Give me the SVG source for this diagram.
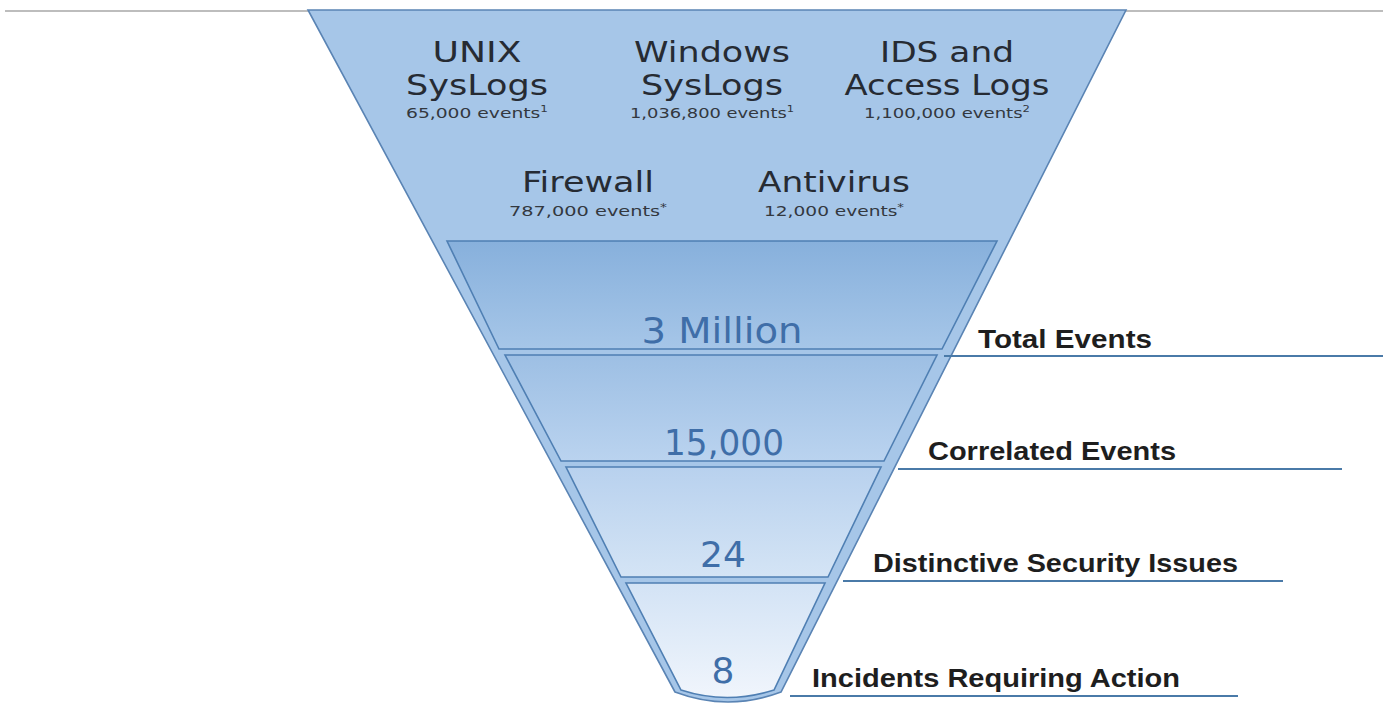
<svg xmlns="http://www.w3.org/2000/svg" width="1383" height="706" viewBox="0 0 1383 706">
<defs>
<linearGradient id="g1" x1="0" y1="0" x2="0" y2="1"><stop offset="0" stop-color="#87b0dc"/><stop offset="1" stop-color="#a6c6e8"/></linearGradient>
<linearGradient id="g2" x1="0" y1="0" x2="0" y2="1"><stop offset="0" stop-color="#9dbfe4"/><stop offset="1" stop-color="#bad3ef"/></linearGradient>
<linearGradient id="g3" x1="0" y1="0" x2="0" y2="1"><stop offset="0" stop-color="#b8d1ee"/><stop offset="1" stop-color="#d4e4f5"/></linearGradient>
<linearGradient id="g4" x1="0" y1="0" x2="0" y2="1"><stop offset="0" stop-color="#d3e3f5"/><stop offset="1" stop-color="#f0f5fc"/></linearGradient>
</defs>
<style>
.band{stroke:#4f7fb3;stroke-width:1.6}
.src{font-family:"DejaVu Sans","Liberation Sans",sans-serif;fill:#262b33;text-anchor:middle}
.t{font-size:29px}
.s{font-size:14px;fill:#33383f}
.num{font-family:"DejaVu Sans","Liberation Sans",sans-serif;font-size:36px;fill:#3f6ea8;text-anchor:middle}
.lab{font-family:"Liberation Sans",Arial,sans-serif;font-weight:bold;font-size:26px;fill:#1e1e1e}
.rule{stroke:#4a7aa8;stroke-width:2;fill:none}
</style>
<line x1="5" y1="11" x2="308" y2="11" stroke="#bdbdbd" stroke-width="2"/>
<line x1="1126" y1="11" x2="1383" y2="11" stroke="#bdbdbd" stroke-width="2"/>
<g id="funnel">
<path d="M308,10 L1126,10 L781,692 Q728,712 675,692 Z" fill="#a6c6e8" stroke="#5a84b4" stroke-width="1.6"/>
</g>
<g id="stage-total">
<polygon class="band" points="447,241 997,241 942,349 499,349" fill="url(#g1)"/>
<text class="num" x="722" y="343" textLength="161" lengthAdjust="spacingAndGlyphs">3 Million</text>
</g>
<g id="stage-correlated">
<polygon class="band" points="505,355 937,355 884,461 561,461" fill="url(#g2)"/>
<text class="num" x="724" y="455" textLength="120" lengthAdjust="spacingAndGlyphs">15,000</text>
</g>
<g id="stage-distinctive">
<polygon class="band" points="566,467 881,467 828,577 621,577" fill="url(#g3)"/>
<text class="num" x="723" y="567">24</text>
</g>
<g id="stage-incidents">
<path class="band" d="M626,583 L825,583 L774,690 Q727,705 681,690 Z" fill="url(#g4)"/>
<text class="num" x="723" y="683">8</text>
</g>
<g id="src-unix">
<text class="src t" x="477" y="62" textLength="89" lengthAdjust="spacingAndGlyphs">UNIX</text>
<text class="src t" x="477" y="95" textLength="142" lengthAdjust="spacingAndGlyphs">SysLogs</text>
<text class="src s" x="477" y="118" textLength="142" lengthAdjust="spacingAndGlyphs">65,000 events<tspan font-size="9" dy="-6">1</tspan></text>
</g>
<g id="src-windows">
<text class="src t" x="712" y="62" textLength="156" lengthAdjust="spacingAndGlyphs">Windows</text>
<text class="src t" x="712" y="95" textLength="142" lengthAdjust="spacingAndGlyphs">SysLogs</text>
<text class="src s" x="712" y="118" textLength="164" lengthAdjust="spacingAndGlyphs">1,036,800 events<tspan font-size="9" dy="-6">1</tspan></text>
</g>
<g id="src-ids">
<text class="src t" x="947" y="62" textLength="134" lengthAdjust="spacingAndGlyphs">IDS and</text>
<text class="src t" x="947" y="95" textLength="205" lengthAdjust="spacingAndGlyphs">Access Logs</text>
<text class="src s" x="947" y="118" textLength="166" lengthAdjust="spacingAndGlyphs">1,100,000 events<tspan font-size="9" dy="-6">2</tspan></text>
</g>
<g id="src-firewall">
<text class="src t" x="588" y="192" textLength="132" lengthAdjust="spacingAndGlyphs">Firewall</text>
<text class="src s" x="588" y="216" textLength="158" lengthAdjust="spacingAndGlyphs">787,000 events<tspan font-size="10" dy="-5">*</tspan></text>
</g>
<g id="src-antivirus">
<text class="src t" x="834" y="192" textLength="152" lengthAdjust="spacingAndGlyphs">Antivirus</text>
<text class="src s" x="834" y="216" textLength="140" lengthAdjust="spacingAndGlyphs">12,000 events<tspan font-size="10" dy="-5">*</tspan></text>
</g>
<g id="connectors">
<line class="rule" x1="944" y1="356" x2="1383" y2="356"/>
<line class="rule" x1="898" y1="469" x2="1342" y2="469"/>
<line class="rule" x1="843" y1="581" x2="1283" y2="581"/>
<line class="rule" x1="790" y1="696" x2="1238" y2="696"/>
</g>
<g id="label-total"><text class="lab" x="978" y="348" textLength="174" lengthAdjust="spacingAndGlyphs">Total Events</text></g>
<g id="label-correlated"><text class="lab" x="928" y="460" textLength="248" lengthAdjust="spacingAndGlyphs">Correlated Events</text></g>
<g id="label-distinctive"><text class="lab" x="873" y="572" textLength="365" lengthAdjust="spacingAndGlyphs">Distinctive Security Issues</text></g>
<g id="label-incidents"><text class="lab" x="812" y="687" textLength="368" lengthAdjust="spacingAndGlyphs">Incidents Requiring Action</text></g>
</svg>
